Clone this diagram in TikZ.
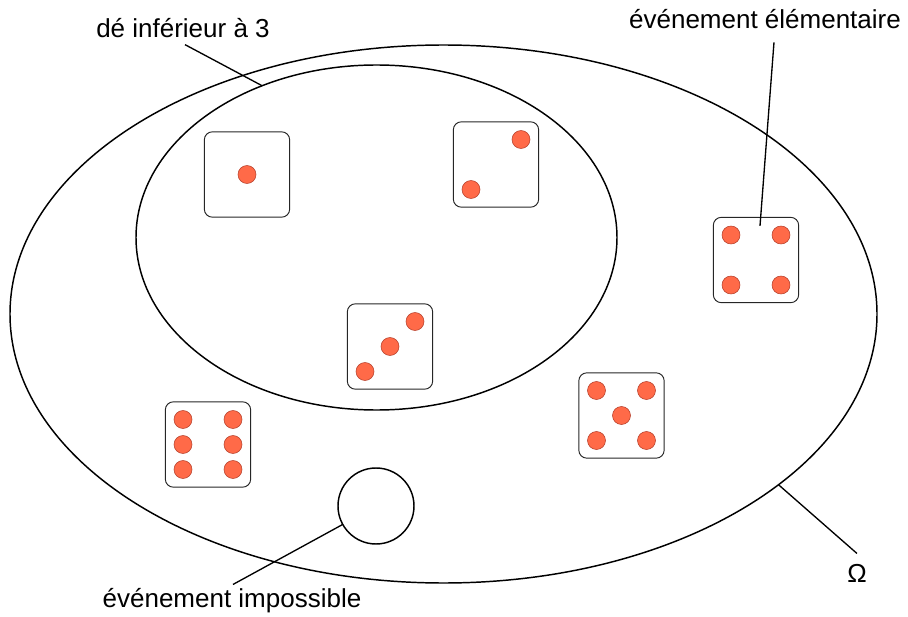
\documentclass[tikz,border=0pt]{standalone}
\usepackage{fontspec}
\setmainfont{Liberation Sans}
\usetikzlibrary{shapes.geometric,calc}
\definecolor{pipred}{RGB}{255,106,72}
\definecolor{pipedge}{RGB}{180,62,42}
\tikzset{
  die/.style={draw=black!85, line width=0.7pt, rounded corners=6pt, minimum size=64pt, inner sep=0pt},
  pip/.style={circle, fill=pipred, draw=pipedge, line width=0.4pt, minimum size=13.5pt, inner sep=0pt},
  set/.style={ellipse, draw, line width=1.1pt, inner sep=0pt, outer sep=0pt},
  lbl/.style={font=\fontsize{19.5}{23}\selectfont, inner sep=3pt},
  pointer/.style={line width=1pt}
}
\begin{document}
\begin{tikzpicture}[x=0.75pt,y=-0.75pt]
      \useasboundingbox (0,0) rectangle (908,617);
      % Omega and the event "lower than 3"
      \node[set, minimum width=650.25pt, minimum height=403.5pt] (omega) at (443.5,314) {};
      \node[set, minimum width=360.75pt, minimum height=258.75pt] (low) at (376.5,237.5) {};
      % the impossible event
      \node[circle, draw, line width=1.1pt, minimum size=57pt, inner sep=0pt, outer sep=0pt] (empty) at (376,506) {};
      % the six dice
      \node[die] (d1) at (247,174.5) {};
      \node[die] (d2) at (496,164.5) {};
      \node[die] (d3) at (390,346.5) {};
      \node[die] (d4) at (756,260) {};
      \node[die] (d5) at (621.5,415.5) {};
      \node[die] (d6) at (208,444.5) {};
      \node[pip] (d1p1) at (d1) {};
      \foreach \dx/\dy [count=\i] in {25/-25,-25/25}
        \node[pip] (d2p\i) at ($(d2)+(\dx,\dy)$) {};
      \foreach \dx/\dy [count=\i] in {25/-25,0/0,-25/25}
        \node[pip] (d3p\i) at ($(d3)+(\dx,\dy)$) {};
      \foreach \dx/\dy [count=\i] in {-25/-25,25/-25,-25/25,25/25}
        \node[pip] (d4p\i) at ($(d4)+(\dx,\dy)$) {};
      \foreach \dx/\dy [count=\i] in {-25/-25,25/-25,0/0,-25/25,25/25}
        \node[pip] (d5p\i) at ($(d5)+(\dx,\dy)$) {};
      \foreach \dx/\dy [count=\i] in {-25/-25,25/-25,-25/0,25/0,-25/25,25/25}
        \node[pip] (d6p\i) at ($(d6)+(\dx,\dy)$) {};
      % labels
      \node[lbl] (inf) at (183,28) {dé inférieur à 3};
      \node[lbl] (elem) at (765,19) {événement élémentaire};
      \node[lbl] (imp) at (232,601) {événement impossible};
      \node[lbl] (om) at (857,573.5) {Ω};
      \draw[pointer] ([xshift=1.5pt,yshift=-2pt]inf.south) -- (low.127.65);
      \draw[pointer] ([xshift=6.75pt,yshift=-7pt]elem.south) -- ([xshift=3pt,yshift=-6.75pt]d4.north);
      \draw[pointer] ([xshift=0.75pt]imp.north) -- (empty.209.2);
      \draw[pointer] (omega.-27.8) -- ([yshift=5pt]om.north);
\end{tikzpicture}
\end{document}
